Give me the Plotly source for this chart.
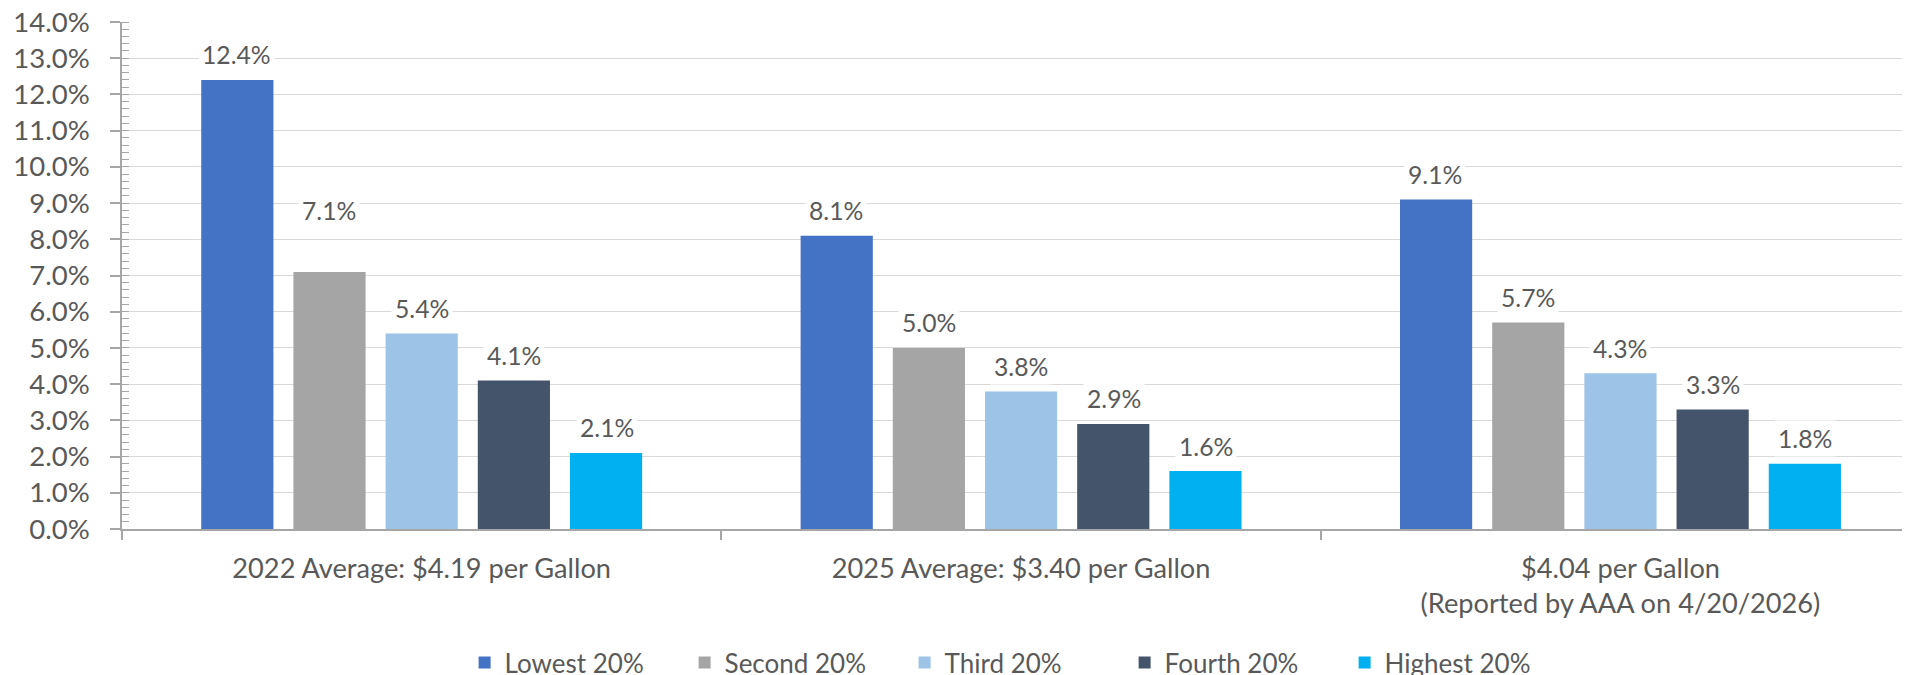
import plotly.graph_objects as go

categories = [
    "2022 Average: $4.19 per Gallon",
    "2025 Average: $3.40 per Gallon",
    "$4.04 per Gallon<br>(Reported by AAA on 4/20/2026)",
]
series_names = ["Lowest 20%", "Second 20%", "Third 20%", "Fourth 20%", "Highest 20%"]
lowest = [12.4, 8.1, 9.1]
second = [7.1, 5.0, 5.7]
third = [5.4, 3.8, 4.3]
fourth = [4.1, 2.9, 3.3]
highest = [2.1, 1.6, 1.8]
series_values = [lowest, second, third, fourth, highest]
y_tick_values = [0, 1, 2, 3, 4, 5, 6, 7, 8, 9, 10, 11, 12, 13, 14]
y_tick_labels = [f"{v:.1f}%" for v in y_tick_values]

colors = ["#4472C4", "#A5A5A5", "#9DC3E6", "#44546A", "#00B0F0"]
FONT = "Lato"
TXT = "#595959"
BAR_PITCH = 92.5  # px between bars within a group (style)
label_extra_shift = {(1, 0): 36}  # (series, category) -> extra px (label placement style)

fig = go.Figure()
for si, (name, vals) in enumerate(zip(series_names, series_values)):
    fig.add_trace(go.Bar(
        x=categories, y=vals, name=name,
        marker=dict(color=colors[si], line=dict(width=0)),
    ))
    for ci, v in enumerate(vals):
        fig.add_annotation(
            x=categories[ci], y=v, text=f"{v:.1f}%",
            showarrow=False, xref="x", yref="y",
            xanchor="center", yanchor="middle",
            xshift=(si - 2) * BAR_PITCH,
            yshift=25 + label_extra_shift.get((si, ci), 0),
            bgcolor="white", borderpad=3,
            font=dict(family=FONT, size=24.7, color=TXT),
        )

fig.update_layout(
    width=1910, height=675,
    margin=dict(l=114, r=0, t=14, b=154, autoexpand=False),
    paper_bgcolor="white", plot_bgcolor="white",
    barmode="group", bargap=0.231, bargroupgap=0.217,
    showlegend=True,
    legend=dict(
        orientation="h", x=0.497, xanchor="center", y=-0.2635, yanchor="middle",
        font=dict(family=FONT, size=26, color=TXT),
        entrywidth=175, entrywidthmode="pixels",
        itemclick=False, itemdoubleclick=False,
    ),
    font=dict(family=FONT, color=TXT),
)
fig.update_xaxes(
    type="category", range=[-0.5, 2.4964], automargin=False,
    tickson="boundaries", ticks="outside", ticklen=9, tickwidth=1.5, tickcolor="#A6A6A6",
    showline=True, linecolor="#A6A6A6", linewidth=2,
    showgrid=False, tickfont=dict(family=FONT, size=27.2, color=TXT),
    ticklabelstandoff=14, ticklabeloverflow="allow",
)
fig.update_yaxes(
    range=[0, 14.0001], automargin=False,
    tickmode="array", tickvals=y_tick_values, ticktext=y_tick_labels,
    ticks="outside", ticklen=10, tickwidth=1.5, tickcolor="#A6A6A6",
    showline=True, linecolor="#A6A6A6", linewidth=1.5,
    showgrid=True, gridcolor="#D9D9D9", gridwidth=1.3,
    zeroline=False,
    minor=dict(ticks="inside", ticklen=7, dtick=0.2, tickwidth=1, tickcolor="#A6A6A6", showgrid=False),
    tickfont=dict(family=FONT, size=27.5, color=TXT),
    ticklabelstandoff=15, ticklabeloverflow="allow",
)

fig.write_html("out.html")
